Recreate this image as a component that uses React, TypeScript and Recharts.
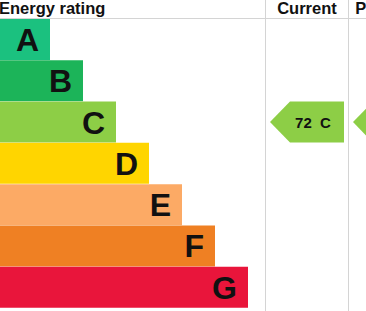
import React from "react";
import { BarChart, Bar, XAxis, YAxis, Cell, LabelList } from "recharts";

/* ------------------------------------------------------------------ */
/* EPC energy rating bands with current / potential arrows             */
/* ------------------------------------------------------------------ */

const ratings = ["A", "B", "C", "D", "E", "F", "G"];
const bandLengths = [50, 83, 116, 149, 182, 215, 248];
const bandColors = ["#1bc17f", "#1cb459", "#8dce46", "#ffd500", "#fcaa65", "#ef8023", "#e9153b"];

const currentRating = "C";
const currentScore = 72;
const potentialRating = "C";
const potentialScore = 79;

const W = 366;
const H = 311;
const HEADER_H = 19;
const COL_CURRENT = 265.5;
const COL_POTENTIAL = 348.5;
const COL_W = 83;
const FONT = "'Liberation Sans', Arial, Helvetica, sans-serif";

const data = ratings.map((r, i) => ({
  rating: r,
  band: bandLengths[i],
  current: r === currentRating ? currentScore : null,
  potential: r === potentialRating ? potentialScore : null,
}));

function colorFor(rating: string) {
  return bandColors[ratings.indexOf(rating)];
}

function BandLetter(props: any) {
  const { x, y, width, height, value } = props;
  return (
    <text
      x={x + width - 11}
      y={y + height / 2 + 11.5}
      textAnchor="end"
      fontFamily={FONT}
      fontWeight="bold"
      fontSize={32}
      fill="#111"
    >
      {value}
    </text>
  );
}

// arrow pointing left, placed in a column, row taken from the band scale
function makeArrow(colLeft: number, key: "current" | "potential") {
  return (props: any) => {
    const { y, height, payload } = props;
    const score = payload?.[key];
    if (score == null) return <g />;
    const left = colLeft + 4.5;
    const right = colLeft + COL_W - 4.5;
    const top = y;
    const bottom = y + height;
    const mid = y + height / 2;
    const shoulder = left + 20;
    const pts = `${left},${mid} ${shoulder},${top} ${right},${top} ${right},${bottom} ${shoulder},${bottom}`;
    return (
      <g>
        <polygon points={pts} fill={colorFor(payload.rating)} />
        <text
          x={left + 43}
          y={mid + 5.5}
          textAnchor="middle"
          fontFamily={FONT}
          fontWeight="bold"
          fontSize={15}
          fill="#111"
          style={{ whiteSpace: "pre" }}
        >
          {`${score}\u00a0\u00a0${payload.rating}`}
        </text>
      </g>
    );
  };
}

const CurrentArrow = makeArrow(COL_CURRENT, "current");
const PotentialArrow = makeArrow(COL_POTENTIAL, "potential");

export default function App() {
  return (
    <div
      style={{
        position: "fixed",
        left: 0,
        top: 0,
        width: W,
        height: H,
        overflow: "hidden",
        background: "#fff",
      }}
    >
      <BarChart
        width={W}
        height={H}
        data={data}
        layout="vertical"
        margin={{ top: HEADER_H, right: 0, bottom: 3, left: 0 }}
        barCategoryGap={0}
      >
        <XAxis type="number" domain={[0, W]} hide allowDataOverflow />
        <YAxis type="category" dataKey="rating" hide />
        <Bar dataKey="band" stackId="row" isAnimationActive={false}>
          {data.map((d, i) => (
            <Cell key={d.rating} fill={bandColors[i]} />
          ))}
          <LabelList dataKey="rating" content={BandLetter} />
        </Bar>
        <Bar dataKey="current" stackId="row" isAnimationActive={false} shape={CurrentArrow} />
        <Bar dataKey="potential" stackId="row" isAnimationActive={false} shape={PotentialArrow} />
      </BarChart>
      <svg
        width={W}
        height={H}
        style={{ position: "absolute", left: 0, top: 0, pointerEvents: "none" }}
      >
        <line x1={0} x2={W} y1={18.5} y2={18.5} stroke="#d4d4d4" strokeWidth={1} />
        <line x1={COL_CURRENT} x2={COL_CURRENT} y1={0} y2={H} stroke="#d4d4d4" strokeWidth={1} />
        <line x1={COL_POTENTIAL} x2={COL_POTENTIAL} y1={0} y2={H} stroke="#d4d4d4" strokeWidth={1} />
        <text x={-1} y={14} fontFamily={FONT} fontWeight="bold" fontSize={16.5} fill="#111">
          Energy rating
        </text>
        <text x={COL_CURRENT + COL_W / 2} y={14} textAnchor="middle" fontFamily={FONT} fontWeight="bold" fontSize={16.5} fill="#111">
          Current
        </text>
        <text x={COL_POTENTIAL + COL_W / 2} y={14} textAnchor="middle" fontFamily={FONT} fontWeight="bold" fontSize={16.5} fill="#111">
          Potential
        </text>
      </svg>
    </div>
  );
}
